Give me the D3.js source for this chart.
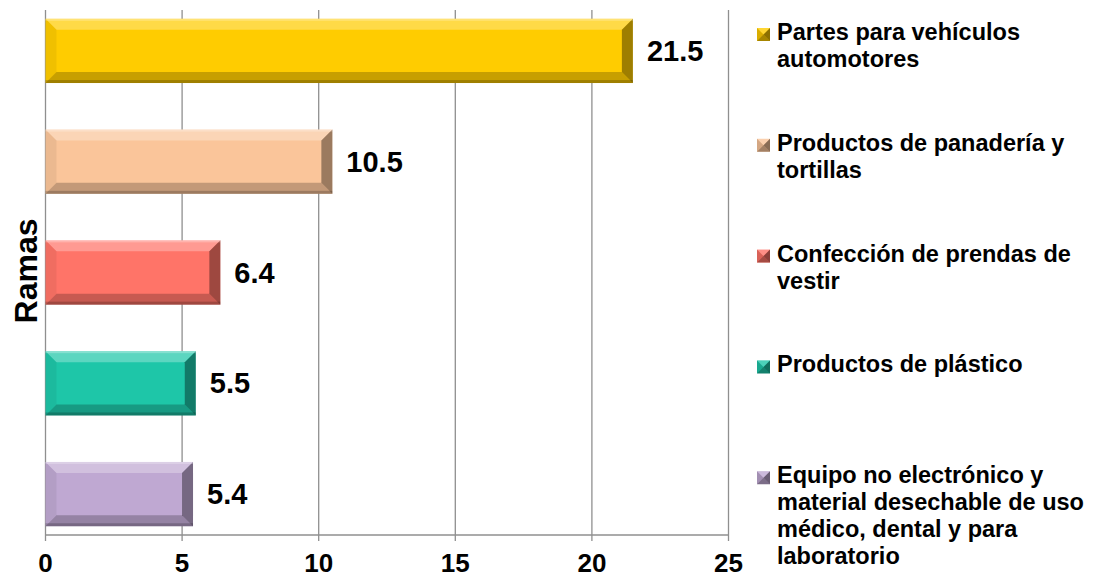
<!DOCTYPE html>
<html><head><meta charset="utf-8">
<script src="https://cdn.jsdelivr.net/npm/d3@7"></script>
<style>
html,body{margin:0;padding:0;background:#fff;}
text{font-family:"Liberation Sans",Arial,sans-serif;font-weight:bold;fill:#000;}
</style></head>
<body>
<svg id="chart" width="1095" height="577"></svg>
<script>
const categories = [
  "Partes para vehículos automotores",
  "Productos de panadería y tortillas",
  "Confección de prendas de vestir",
  "Productos de plástico",
  "Equipo no electrónico y material desechable de uso médico, dental y para laboratorio"
];
const values = [21.5, 10.5, 6.4, 5.5, 5.4];
const colors = ["#FFCC00", "#FAC59A", "#FF7468", "#1EC6A8", "#BFA8D2"];
const legendLines = [
  ["Partes para vehículos", "automotores"],
  ["Productos de panadería y", "tortillas"],
  ["Confección de prendas de", "vestir"],
  ["Productos de plástico"],
  ["Equipo no electrónico y", "material desechable de uso", "médico, dental y para", "laboratorio"]
];
const xTicks = [0, 5, 10, 15, 20, 25];
const axisTitle = "Ramas";

const svg = d3.select("#chart");
const x = d3.scaleLinear().domain([0, 25]).range([45.5, 728.5]);
const y = d3.scaleBand().domain(categories).range([-4.5, 549.5]).paddingInner(0.42).paddingOuter(0.21);
const plotTop = 10, plotBottom = 535;

// gridlines
svg.append("g").selectAll("line").data(xTicks).join("line")
  .attr("x1", d => x(d)).attr("x2", d => x(d))
  .attr("y1", plotTop).attr("y2", plotBottom + 6)
  .attr("stroke", "#8f8f8f").attr("stroke-width", 1.3);
// bottom axis line
svg.append("line").attr("x1", x(0)).attr("x2", x(25)).attr("y1", plotBottom).attr("y2", plotBottom)
  .attr("stroke", "#8f8f8f").attr("stroke-width", 1.3);
// tick labels
svg.append("g").selectAll("text").data(xTicks).join("text")
  .attr("x", d => x(d)).attr("y", 572).attr("text-anchor", "middle")
  .attr("font-size", 26).text(d => d);

// bars with bevel
const b = 11;
const barG = svg.append("g");
categories.forEach((c, i) => {
  const x0 = x(0), x1 = x(values[i]), y0 = y(c), y1 = y(c) + y.bandwidth();
  const g = barG.append("g");
  g.append("rect").attr("x", x0).attr("y", y0).attr("width", x1 - x0).attr("height", y1 - y0).attr("fill", colors[i]);
  const poly = (pts, fill, op) => g.append("polygon").attr("points", pts.map(p => p.join(",")).join(" ")).attr("fill", fill).attr("fill-opacity", op);
  poly([[x0, y0], [x1, y0], [x1 - b, y0 + b], [x0 + b, y0 + b]], "#fff", 0.28);
  poly([[x0, y0], [x0 + b, y0 + b], [x0 + b, y1 - b], [x0, y1]], "#000", 0.06);
  poly([[x0, y1], [x1, y1], [x1 - b, y1 - b], [x0 + b, y1 - b]], "#000", 0.22);
  poly([[x1, y0], [x1 - b, y0 + b], [x1 - b, y1 - b], [x1, y1]], "#000", 0.38);
  g.append("rect").attr("x", x0).attr("y", y0).attr("width", x1 - x0).attr("height", 2).attr("fill", "#fff").attr("fill-opacity", 0.25);
  g.append("rect").attr("x", x0).attr("y", y1 - 3).attr("width", x1 - x0).attr("height", 3).attr("fill", "#000").attr("fill-opacity", 0.2);
});

// value labels
svg.append("g").selectAll("text").data(categories).join("text")
  .attr("x", (d, i) => x(values[i]) + 14)
  .attr("y", d => y(d) + y.bandwidth() / 2 + 10)
  .attr("font-size", 29).text((d, i) => values[i].toFixed(1));

// y-axis title
svg.append("text").attr("transform", "translate(37,271) rotate(-90)")
  .attr("text-anchor", "middle").attr("font-size", 32).text(axisTitle);

// legend
const legStep = (y(categories[4]) - y(categories[0])) / 4;
const lg = svg.append("g");
legendLines.forEach((lines, i) => {
  const base = 40 + i * legStep;
  const mx = 757, my = base - 12, ms = 13;
  const g = lg.append("g");
  g.append("rect").attr("x", mx).attr("y", my).attr("width", ms).attr("height", ms).attr("fill", colors[i]);
  const c = [mx + ms / 2, my + ms / 2];
  const tri = (pts, fill, op) => g.append("polygon").attr("points", pts.map(p => p.join(",")).join(" ")).attr("fill", fill).attr("fill-opacity", op);
  tri([[mx, my], [mx + ms, my], c], "#fff", 0.2);
  tri([[mx, my], [mx, my + ms], c], "#000", 0.15);
  tri([[mx, my + ms], [mx + ms, my + ms], c], "#000", 0.35);
  tri([[mx + ms, my], [mx + ms, my + ms], c], "#000", 0.45);
  const t = g.append("text").attr("x", 777).attr("y", base).attr("font-size", 23.5);
  lines.forEach((ln, j) => t.append("tspan").attr("x", 777).attr("dy", j === 0 ? 0 : 27).text(ln));
});
</script>
</body></html>
